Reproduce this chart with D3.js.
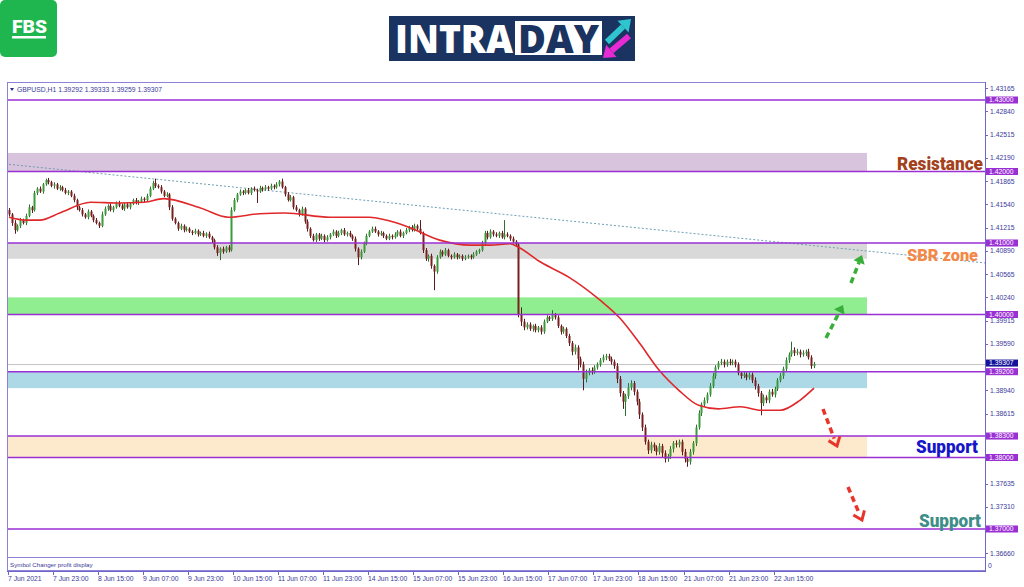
<!DOCTYPE html>
<html lang="en">
<head>
<meta charset="utf-8">
<title>GBPUSD H1 intraday</title>
<script src="https://cdn.jsdelivr.net/npm/d3@7"></script>
<style>
  body { margin: 0; background: #fff; }
  svg { display: block; }
  .small { font: 6.8px "Liberation Sans", Arial, sans-serif; fill: #3a3a9a; }
  .big { font-family: Roboto, "Open Sans", sans-serif; font-weight: 900; }
</style>
</head>
<body>
<svg width="1024" height="587"></svg>
<script>
// hourly closes, 7 Jun 2021 -> 23 Jun 2021
var firstOpen = 1.4146;
var closes = [
  1.4140,1.4128,1.4118,1.4124,1.4132,1.4128,1.4138,1.4150,1.4146,1.4170,
  1.4176,1.4172,1.4182,1.4188,1.4185,1.4180,1.4182,1.4176,1.4178,1.4174,
  1.4170,1.4172,1.4166,1.4160,1.4150,1.4146,1.4140,1.4136,1.4144,1.4138,
  1.4132,1.4128,1.4124,1.4140,1.4148,1.4152,1.4146,1.4150,1.4156,1.4152,
  1.4148,1.4154,1.4150,1.4155,1.4160,1.4156,1.4158,1.4162,1.4160,1.4166,
  1.4176,1.4184,1.4180,1.4178,1.4172,1.4166,1.4168,1.4150,1.4134,1.4128,
  1.4120,1.4124,1.4118,1.4120,1.4116,1.4114,1.4117,1.4112,1.4114,1.4110,
  1.4113,1.4108,1.4104,1.4094,1.4086,1.4092,1.4088,1.4094,1.4090,1.4146,
  1.4160,1.4168,1.4172,1.4170,1.4174,1.4170,1.4176,1.4174,1.4172,1.4177,
  1.4175,1.4178,1.4176,1.4180,1.4178,1.4182,1.4186,1.4178,1.4168,1.4160,
  1.4164,1.4150,1.4146,1.4140,1.4148,1.4130,1.4120,1.4110,1.4104,1.4112,
  1.4106,1.4110,1.4104,1.4108,1.4112,1.4116,1.4110,1.4114,1.4118,1.4112,
  1.4114,1.4110,1.4106,1.4092,1.4080,1.4088,1.4100,1.4110,1.4116,1.4120,
  1.4116,1.4112,1.4114,1.4110,1.4106,1.4110,1.4108,1.4112,1.4116,1.4110,
  1.4114,1.4118,1.4122,1.4118,1.4124,1.4120,1.4114,1.4090,1.4078,1.4082,
  1.4068,1.4060,1.4080,1.4088,1.4084,1.4090,1.4082,1.4080,1.4084,1.4080,
  1.4082,1.4078,1.4080,1.4082,1.4080,1.4084,1.4088,1.4090,1.4100,1.4114,
  1.4108,1.4116,1.4112,1.4110,1.4114,1.4108,1.4112,1.4110,1.4106,1.4102,
  1.4098,1.4000,1.3990,1.3982,1.3986,1.3980,1.3984,1.3978,1.3982,1.3976,
  1.3990,1.3996,1.3994,1.4000,1.3996,1.3984,1.3976,1.3980,1.3970,1.3960,
  1.3948,1.3954,1.3938,1.3930,1.3910,1.3918,1.3922,1.3920,1.3926,1.3930,
  1.3936,1.3940,1.3942,1.3938,1.3934,1.3928,1.3910,1.3890,1.3878,1.3886,
  1.3898,1.3904,1.3892,1.3878,1.3860,1.3842,1.3822,1.3810,1.3818,1.3814,
  1.3808,1.3816,1.3806,1.3798,1.3802,1.3812,1.3820,1.3818,1.3822,1.3808,
  1.3798,1.3794,1.3808,1.3820,1.3842,1.3862,1.3874,1.3880,1.3888,1.3900,
  1.3914,1.3926,1.3932,1.3934,1.3930,1.3934,1.3932,1.3934,1.3930,1.3918,
  1.3914,1.3916,1.3912,1.3916,1.3908,1.3900,1.3890,1.3876,1.3884,1.3880,
  1.3892,1.3888,1.3896,1.3908,1.3914,1.3924,1.3936,1.3944,1.3950,1.3946,
  1.3948,1.3944,1.3946,1.3948,1.3940,1.3928,1.39307
];
// wick lengths above / below the body, in pips
var upWick = [
  3,2,4,2,3,2,3,4,2,3, 2,3,2,2,3,2,3,2,3,2, 3,2,2,3,2,2,3,2,3,2, 2,3,2,4,3,2,3,2,2,3,
  3,2,3,2,2,3,2,3,2,3, 3,3,6,2,3,2,3,2,3,2, 2,3,2,3,2,2,3,2,2,3, 2,3,2,2,3,2,3,2,3,4,
  3,2,3,2,2,3,2,3,2,3, 2,3,2,3,2,3,2,4,2,3, 3,2,3,2,3,2,3,2,3,2, 2,3,2,3,2,3,2,3,2,3,
  2,3,2,3,2,3,2,3,2,3, 3,2,3,2,2,3,2,3,2,3, 2,3,2,3,3,2,12,2,3,2, 3,2,3,3,2,3,2,2,3,2,
  2,2,3,2,2,3,2,2,3,3, 3,3,2,3,2,3,20,3,2,3, 2,2,10,4,3,3,2,3,2,3, 3,3,2,6,2,3,2,3,2,3,
  3,4,3,3,4,5,3,4,3,3, 3,4,3,3,3,3,4,4,3,3, 6,4,3,3,4,3,4,3,4,3, 3,4,3,4,3,4,3,4,3,3,
  4,3,4,3,4,4,3,4,3,4, 4,3,3,4,3,3,4,3,3,3, 3,4,3,3,3,4,3,3,4,3, 3,4,3,3,4,3,4,3,12,4,
  4,3,4,3,4,3,3
];
var dnWick = [
  3,4,5,2,3,2,3,2,4,2, 3,2,3,2,3,2,4,2,3,2, 2,3,2,3,4,2,3,2,3,2, 3,2,3,2,2,3,2,3,2,2,
  2,3,2,3,2,2,3,2,3,2, 2,2,3,2,3,2,2,4,3,2, 3,2,3,2,2,3,2,3,2,2, 3,2,4,3,4,10,3,2,3,2,
  2,3,2,3,2,2,3,2,16,2, 3,2,3,2,3,2,3,2,3,2, 2,3,2,3,2,3,4,3,2,3, 3,2,3,2,3,2,3,2,3,2,
  3,2,3,4,11,3,2,3,2,2, 2,3,2,3,2,2,3,2,3,2, 3,2,3,2,2,3,2,4,3,4, 4,26,3,2,3,2,2,3,2,3,
  2,3,2,2,3,2,2,3,2,3, 3,2,3,2,3,2,3,2,3,2, 3,4,6,4,3,3,4,3,3,4, 3,2,3,3,3,3,4,3,3,4,
  5,4,16,4,16,5,3,4,3,3, 3,3,4,3,4,4,6,5,10,20, 4,4,5,5,6,5,4,5,4,5, 5,4,6,5,4,4,5,4,4,5,
  5,7,4,4,4,3,4,3,4,3, 3,4,3,3,4,3,3,3,4,3, 4,3,4,3,4,5,5,17,4,4, 4,3,4,3,3,4,3,4,3,4,
  3,4,3,4,3,4,3
];
// moving average read at a few bars
var maBar = [0,6,11,18,29,39,48,55,68,78,89,98,114,128,135,142,153,164,171,178,181,189,199,210,217,224,231,238,245,252,260,267,274,281,286];
var maVal = [1.4136,1.4132,1.4132,1.4142,1.4157,1.4156,1.4157,1.4162,1.4149,1.4136,1.4141,1.4142,1.4136,1.4136,1.4131,1.4122,1.4104,1.4097,1.4097,1.4099,1.4094,1.4073,1.4052,1.4020,1.3995,1.3960,1.3922,1.3894,1.3873,1.3868,1.3871,1.3866,1.3866,1.3880,1.3897];

var timeLabels = ["7 Jun 2021","7 Jun 23:00","8 Jun 15:00","9 Jun 07:00","9 Jun 23:00","10 Jun 15:00","11 Jun 07:00","11 Jun 23:00","14 Jun 15:00","15 Jun 07:00","15 Jun 23:00","16 Jun 15:00","17 Jun 07:00","17 Jun 23:00","18 Jun 15:00","21 Jun 07:00","21 Jun 23:00","22 Jun 15:00"];
var priceTicks = [1.43165,1.42840,1.42515,1.42190,1.41865,1.41540,1.41215,1.40890,1.40565,1.40240,1.39915,1.39590,1.38940,1.38615,1.37635,1.37310,1.36660];
var levels = [1.43,1.42,1.41,1.40,1.392,1.383,1.38,1.37];
var zoneTop = [1.4226,1.4100,1.4024,1.3920,1.3830];
var zoneBottom = [1.4200,1.4078,1.4000,1.3897,1.3800];
var lastPrice = 1.39307;
var trendFrom = [0, 1.4210], trendTo = [347, 1.4072]; // [bar, price]

var svg = d3.select("svg");
var L = 7, R = 985, T = 82, B = 557;
var x = d3.scaleLinear().domain([0, closes.length - 1]).range([9, 814]);
var y = d3.scaleLinear().domain([1.43, 1.37]).range([100, 529]);
var pip = 0.0001;

var zoneColors = ["#d8c4dc", "#d9d9d9", "#90ee90", "#add8e6", "#fde9cb"];

svg.append("defs").append("clipPath").attr("id", "plot")
  .append("rect").attr("x", L).attr("y", T).attr("width", R - L).attr("height", B - T);

var plot = svg.append("g").attr("clip-path", "url(#plot)");

// zones
plot.selectAll("rect.zone").data(zoneTop).enter().append("rect")
  .attr("class", "zone")
  .attr("x", L + 1).attr("width", 867 - L - 1)
  .attr("y", function(d) { return y(d); })
  .attr("height", function(d, i) { return y(zoneBottom[i]) - y(d); })
  .attr("fill", function(d, i) { return zoneColors[i]; });

// trend line
plot.append("line")
  .attr("x1", x(trendFrom[0])).attr("y1", y(trendFrom[1]))
  .attr("x2", x(trendTo[0])).attr("y2", y(trendTo[1]))
  .attr("stroke", "#6f9fb2").attr("stroke-width", 1).attr("stroke-dasharray", "2,2");

// last price line
plot.append("line")
  .attr("x1", L).attr("x2", R).attr("y1", y(lastPrice) + 0.5).attr("y2", y(lastPrice) + 0.5)
  .attr("stroke", "#c4c4c4").attr("stroke-width", 1);

// candles
var bars = closes.map(function(c, i) {
  var o = i === 0 ? firstOpen : closes[i - 1];
  return { i: i, o: o, c: c,
           h: Math.max(o, c) + upWick[i] * pip,
           l: Math.min(o, c) - dnWick[i] * pip };
});
var cg = plot.append("g");
cg.selectAll("line").data(bars).enter().append("line")
  .attr("x1", function(d) { return Math.round(x(d.i)) + 0.5; })
  .attr("x2", function(d) { return Math.round(x(d.i)) + 0.5; })
  .attr("y1", function(d) { return y(d.h); })
  .attr("y2", function(d) { return y(d.l); })
  .attr("stroke", function(d) { return d.c >= d.o ? "#2f6f2f" : "#5a1a1a"; })
  .attr("stroke-width", 1);
cg.selectAll("rect").data(bars).enter().append("rect")
  .attr("x", function(d) { return Math.round(x(d.i)) - 0.5; })
  .attr("width", 2)
  .attr("y", function(d) { return y(Math.max(d.o, d.c)); })
  .attr("height", function(d) { return Math.max(1, Math.abs(y(d.o) - y(d.c))); })
  .attr("fill", function(d) { return d.c >= d.o ? "#3b9a3b" : "#7a2020"; });

// moving average
var ma = d3.line()
  .x(function(d, i) { return x(maBar[i]); })
  .y(function(d) { return y(d); })
  .curve(d3.curveMonotoneX);
plot.append("path").datum(maVal)
  .attr("d", ma).attr("fill", "none").attr("stroke", "#e0282a").attr("stroke-width", 1.6);

// level lines
plot.selectAll("line.lvl").data(levels).enter().append("line")
  .attr("class", "lvl")
  .attr("x1", L).attr("x2", R)
  .attr("y1", function(d) { return y(d); }).attr("y2", function(d) { return y(d); })
  .attr("stroke", "#9a2fd4").attr("stroke-width", 1.6);

// frame
svg.append("rect").attr("x", L + 0.5).attr("y", T + 0.5).attr("width", R - L).attr("height", B - T)
  .attr("fill", "none").attr("stroke", "#8d82d6");
svg.append("rect").attr("x", L + 0.5).attr("y", B + 0.5).attr("width", R - L).attr("height", 13)
  .attr("fill", "none").attr("stroke", "#8d82d6");
svg.append("line").attr("x1", R + 0.5).attr("x2", R + 0.5).attr("y1", T).attr("y2", 572)
  .attr("stroke", "#6e66c8");
svg.append("line").attr("x1", L).attr("x2", R).attr("y1", 571.5).attr("y2", 571.5)
  .attr("stroke", "#6e66c8");

svg.append("path").attr("d", "M10,88 L14,88 L12,91 Z").attr("fill", "#2a2a8a");
svg.append("text").attr("class", "small").attr("x", 17).attr("y", 91.5)
  .text("GBPUSD,H1  1.39292 1.39333 1.39259 1.39307");
svg.append("text").attr("class", "small").attr("x", 10).attr("y", 567)
  .style("font-size", "6.2px").text("Symbol Changer profit display");
svg.append("text").attr("class", "small").attr("x", 988).attr("y", 568).text("0");

// price axis
var ya = svg.append("g");
ya.selectAll("line").data(priceTicks).enter().append("line")
  .attr("x1", R).attr("x2", R + 3)
  .attr("y1", function(d) { return Math.round(y(d)) + 0.5; })
  .attr("y2", function(d) { return Math.round(y(d)) + 0.5; })
  .attr("stroke", "#6e66c8");
ya.selectAll("text").data(priceTicks).enter().append("text")
  .attr("class", "small")
  .attr("x", 990).attr("y", function(d) { return y(d) + 2.4; })
  .text(function(d) { return d.toFixed(5); });

function priceTag(v, dy, color) {
  svg.append("rect").attr("x", 986).attr("y", y(v) - 3.5 + dy).attr("width", 32).attr("height", 7)
    .attr("fill", color);
  svg.append("text").attr("class", "small").attr("x", 989).attr("y", y(v) + 2.4 + dy)
    .style("fill", "#fff").text(v.toFixed(5));
}
levels.forEach(function(v) { priceTag(v, 0, "#9a2fd4"); });
priceTag(lastPrice, -1, "#14149a");

// time axis
var xa = svg.append("g");
xa.selectAll("line").data(timeLabels).enter().append("line")
  .attr("x1", function(d, k) { return Math.round(x(k * 16)) - 0.5; })
  .attr("x2", function(d, k) { return Math.round(x(k * 16)) - 0.5; })
  .attr("y1", 572).attr("y2", 575).attr("stroke", "#6e66c8");
xa.selectAll("text").data(timeLabels).enter().append("text")
  .attr("class", "small")
  .attr("x", function(d, k) { return Math.round(x(k * 16)) - 1; })
  .attr("y", 581)
  .text(function(d) { return d; });

// annotation labels
function bigLabel(t, x0, y0, w, size, color) {
  svg.append("text").attr("class", "big").attr("x", x0).attr("y", y0)
    .attr("textLength", w).attr("lengthAdjust", "spacingAndGlyphs")
    .style("font-size", size + "px").attr("fill", color).text(t);
}
bigLabel("Resistance", 897, 170, 86, 18, "#a3411c");
bigLabel("SBR zone", 907, 261, 71, 17, "#f38848");
bigLabel("Support", 916, 453, 62, 18, "#1616c8");
bigLabel("Support", 919, 527, 62, 18, "#3f8d88");

// dashed arrows
function dashArrow(x1, y1, x2, y2, color, filled) {
  var dx = x2 - x1, dy = y2 - y1, len = Math.sqrt(dx * dx + dy * dy);
  var ux = dx / len, uy = dy / len, px = -uy, py = ux;
  var hl = 8, hw = 6;
  var bx = x2 - ux * hl, by = y2 - uy * hl;
  svg.append("line").attr("x1", x1).attr("y1", y1).attr("x2", bx).attr("y2", by)
    .attr("stroke", color).attr("stroke-width", 3.5).attr("stroke-dasharray", "6,4");
  if (filled) {
    svg.append("path")
      .attr("d", "M" + x2 + "," + y2 + "L" + (bx + px * hw) + "," + (by + py * hw) +
                 "L" + (bx - px * hw) + "," + (by - py * hw) + "Z")
      .attr("fill", color);
  } else {
    svg.append("path")
      .attr("d", "M" + (bx + px * hw) + "," + (by + py * hw) + "L" + x2 + "," + y2 +
                 "L" + (bx - px * hw) + "," + (by - py * hw))
      .attr("fill", "none").attr("stroke", color).attr("stroke-width", 3);
  }
}
dashArrow(826, 338, 843, 305, "#3aae3a", true);
dashArrow(851, 283, 862, 255, "#3aae3a", true);
dashArrow(823, 409, 837, 446, "#e8352b", false);
dashArrow(848, 487, 862, 520, "#e8352b", false);

// FBS logo
svg.append("rect").attr("x", 0).attr("y", 0).attr("width", 57).attr("height", 57).attr("rx", 5)
  .attr("fill", "#1fb650");
svg.append("text").attr("x", 12).attr("y", 33).attr("textLength", 35).attr("lengthAdjust", "spacingAndGlyphs")
  .style("font", "900 18px Roboto, sans-serif").attr("fill", "#fff").text("FBS");
svg.append("rect").attr("x", 12).attr("y", 36).attr("width", 34).attr("height", 2.5).attr("fill", "#fff");

// INTRADAY logo
var navy = "#1b3360";
svg.append("rect").attr("x", 389).attr("y", 16).attr("width", 246).attr("height", 45).attr("fill", navy);
svg.append("text").attr("x", 395).attr("y", 53).attr("textLength", 118).attr("lengthAdjust", "spacingAndGlyphs")
  .style("font", "800 39px 'Open Sans', Roboto, sans-serif").attr("fill", "#fff").text("INTRA");
svg.append("rect").attr("x", 515).attr("y", 21).attr("width", 87).attr("height", 34).attr("fill", "#fff");
svg.append("text").attr("x", 518).attr("y", 53).attr("textLength", 81).attr("lengthAdjust", "spacingAndGlyphs")
  .style("font", "800 39px 'Open Sans', Roboto, sans-serif").attr("fill", navy).text("DAY");
function blockArrow(x1, y1, x2, y2, color) {
  var dx = x2 - x1, dy = y2 - y1, len = Math.sqrt(dx * dx + dy * dy);
  var ux = dx / len, uy = dy / len, px = -uy, py = ux;
  var bx = x2 - ux * 11, by = y2 - uy * 11;
  svg.append("line").attr("x1", x1).attr("y1", y1).attr("x2", bx).attr("y2", by)
    .attr("stroke", color).attr("stroke-width", 6);
  svg.append("path").attr("d", "M" + x2 + "," + y2 + "L" + (bx + px * 8) + "," + (by + py * 8) +
    "L" + (bx - px * 8) + "," + (by - py * 8) + "Z").attr("fill", color);
}
blockArrow(607, 42, 631, 19, "#2ec5cf");
blockArrow(629, 36, 603, 58, "#e62ad4");
</script>
</body>
</html>
